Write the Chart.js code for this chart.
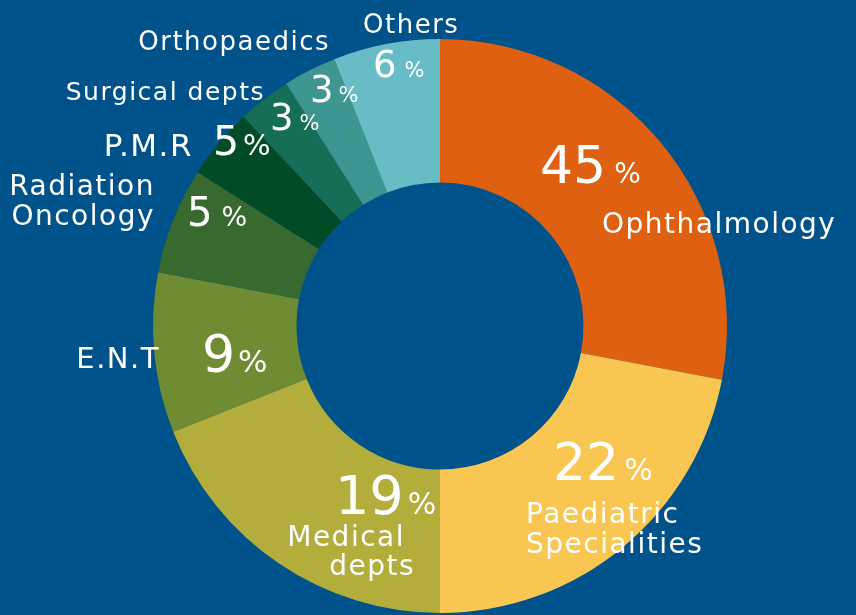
<!DOCTYPE html>
<html>
<head>
<meta charset="utf-8">
<script src="https://cdn.jsdelivr.net/npm/chart.js@4/dist/chart.umd.min.js"></script>
<style>
  html, body { margin: 0; padding: 0; background: #00528b; }
  #wrap { width: 856px; height: 615px; position: relative; }
</style>
</head>
<body>
<div id="wrap"><canvas id="donut" width="856" height="615"></canvas></div>
<script>
// departments, clockwise from 12 o'clock
const departments = [
  'Ophthalmology', 'Paediatric Specialities', 'Medical depts', 'E.N.T',
  'Radiation Oncology', 'P.M.R', 'Surgical depts', 'Orthopaedics', 'Others'
];
// share written on each slice
const labelPercent = [45, 22, 19, 9, 5, 5, 3, 3, 6];
// slice size as drawn in the picture
const sliceShare = [28, 22, 19, 9, 6, 4, 3, 3, 6];
const sliceColors = [
  '#df6011', '#f9c751', '#b3ad3b', '#6f8c33',
  '#386a2f', '#024b27', '#176e57', '#3e9690', '#68bcc6'
];

// where each label sits, relative to the donut centre
// num: [x, baseline, size, pctSize, gap]; name lines: [text, x, baseline, align]
const labelLayout = [
  { num: [100, -143, 52, 28, 8], nameSize: 28, lines: [['Ophthalmology', 162, -93, 'left']] },
  { num: [113, 154, 52, 30, 5], nameSize: 28, lines: [['Paediatric', 86, 197, 'left'], ['Specialities', 86, 227, 'left']] },
  { num: [-105, 188, 54, 30, 4], nameSize: 28, lines: [['Medical', -35, 220, 'right'], ['depts', -25, 249, 'right']] },
  { num: [-238, 46, 52, 31, 3], nameSize: 29, lines: [['E.N.T', -280, 42, 'right']] },
  { num: [-253, -100, 40, 27, 9], nameSize: 28, lines: [['Radiation', -285, -131, 'right'], ['Oncology', -285, -101, 'right']] },
  { num: [-227, -171, 41, 29, 4], nameSize: 31, lines: [['P.M.R', -247, -170, 'right']] },
  { num: [-170, -196, 37, 21, 6], nameSize: 25, lines: [['Surgical depts', -175, -226, 'right']] },
  { num: [-130, -224, 37, 21, 5], nameSize: 26, lines: [['Orthopaedics', -110, -276, 'right']] },
  { num: [-67, -249, 37, 21, 8], nameSize: 26, lines: [['Others', -77, -293, 'left']] }
];

const FONT = '"DejaVu Sans", sans-serif';

const sliceLabels = {
  id: 'sliceLabels',
  afterDatasetsDraw(chart) {
    const arc = chart.getDatasetMeta(0).data[0];
    if (!arc) return;
    const cx = arc.x, cy = arc.y;
    const ctx = chart.ctx;
    ctx.save();
    ctx.fillStyle = '#ffffff';
    ctx.textBaseline = 'alphabetic';
    labelLayout.forEach((l, i) => {
      const [nx, ny, size, pSize, gap] = l.num;
      ctx.letterSpacing = '0px';
      ctx.textAlign = 'left';
      ctx.font = `${size}px ${FONT}`;
      const numText = String(labelPercent[i]);
      ctx.fillText(numText, cx + nx, cy + ny);
      const w = ctx.measureText(numText).width;
      ctx.font = `${pSize}px ${FONT}`;
      ctx.fillText('%', cx + nx + w + gap, cy + ny);

      ctx.font = `${l.nameSize}px ${FONT}`;
      ctx.letterSpacing = '1.5px';
      l.lines.forEach(([t, x, y, align]) => {
        ctx.textAlign = align;
        ctx.fillText(t, cx + x, cy + y);
      });
    });
    ctx.restore();
  }
};

new Chart(document.getElementById('donut'), {
  type: 'doughnut',
  data: {
    labels: departments,
    datasets: [{
      data: sliceShare,
      backgroundColor: sliceColors,
      borderWidth: 0,
      hoverOffset: 0,
      hoverBorderWidth: 0
    }]
  },
  options: {
    responsive: false,
    animation: false,
    cutout: '50%',
    layout: { padding: { top: 39, bottom: 2, left: 153, right: 129 } },
    plugins: {
      legend: { display: false },
      tooltip: { enabled: false }
    }
  },
  plugins: [sliceLabels]
});
</script>
</body>
</html>
